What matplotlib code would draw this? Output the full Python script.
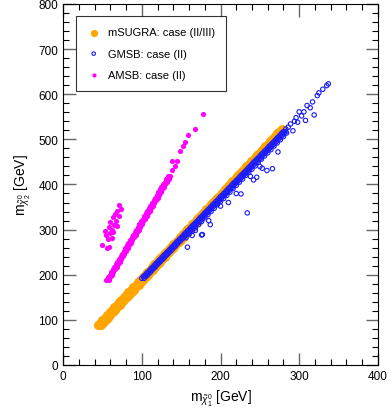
import matplotlib
matplotlib.use("Agg")
import matplotlib.pyplot as plt
from matplotlib.ticker import MultipleLocator

plt.rcParams['font.family'] = ['Liberation Sans', 'DejaVu Sans']
plt.rcParams['mathtext.fontset'] = 'custom'
plt.rcParams['mathtext.rm'] = 'Liberation Sans'
plt.rcParams['mathtext.it'] = 'Liberation Sans:italic'

# === mSUGRA: case (II/III) ===
msugra_x = [44, 47, 50, 53, 56, 59, 62, 65, 68, 71, 74, 77, 80, 83, 86, 89, 92, 95, 98,
            101, 104, 107, 110, 113, 116, 119, 122, 125, 128, 131, 134, 137, 140, 143, 146,
            149, 152, 155, 158, 161, 164, 167, 170, 173, 176, 179, 182, 185, 188, 191, 194,
            197, 200, 203, 206, 209, 212, 215, 218, 221, 224, 227, 230, 233, 236, 239, 242,
            245, 248, 251, 254, 257, 260, 263, 266, 269, 272, 275, 278,
            48, 51, 54, 57, 60, 63, 66, 69, 72, 75, 78, 81, 84, 87, 90, 93, 96, 99, 102,
            105, 108, 111, 114, 117, 120, 123, 126, 129, 132, 135, 138, 141, 144, 147, 150,
            153, 156, 159, 162, 165, 168, 171, 174]
msugra_y = [89, 94, 100, 105, 111, 117, 122, 128, 133, 139, 144, 150, 156, 161, 167, 172, 178, 183, 189,
            195, 200, 206, 211, 217, 223, 228, 234, 239, 245, 250, 256, 262, 267, 273, 278,
            284, 290, 295, 301, 306, 312, 317, 323, 329, 334, 340, 345, 351, 356, 362, 368,
            373, 379, 384, 390, 396, 401, 407, 412, 418, 423, 429, 435, 440, 446, 451, 457,
            462, 468, 474, 479, 485, 490, 496, 501, 507, 513, 518, 524,
            89, 94, 100, 105, 111, 117, 122, 128, 133, 139, 144, 150, 156, 161, 167, 172, 178, 183, 189,
            195, 200, 206, 211, 217, 223, 228, 234, 239, 245, 250, 256, 262, 267, 273, 278,
            284, 290, 295, 301, 306, 312, 317, 323]

# === GMSB: case (II) ===
gmsb_band_x = [100, 102, 104, 106, 108, 110, 112, 114, 116, 118, 120, 122, 124, 126, 128, 130,
               132, 134, 136, 138, 140, 142, 144, 146, 148, 150, 152, 154, 156, 158, 160, 162,
               164, 166, 168, 170, 172, 174, 176, 178, 180, 182, 184, 186, 188, 190, 192, 194,
               196, 198, 200, 202, 204, 206, 208, 210, 212, 214, 216, 218, 220, 222, 224, 226,
               228, 230, 232, 234, 236, 238, 240, 242, 244, 246, 248, 250, 252, 254, 256, 258,
               260, 262, 264, 266, 268, 270, 272, 274, 276, 278, 280,
               103, 105, 107, 109, 111, 113, 115, 117, 119, 121, 123, 125, 127, 129, 131, 133,
               135, 137, 139, 141, 143, 145, 147, 149, 151, 153, 155, 157, 159, 161, 163, 165,
               167, 169, 171, 173, 175, 177, 179, 181, 183, 185, 187, 189, 191, 193, 195, 197,
               199, 201, 203, 205, 207, 209, 211, 213, 215, 217, 219, 221, 223, 225, 227, 229,
               231, 233, 235, 237, 239, 241, 243, 245, 247, 249, 251, 253, 255, 257, 259, 261,
               263, 265, 267, 269, 271, 273, 275, 277, 279, 281, 283,
               156, 160, 164, 168, 172, 176, 180, 184, 188, 192, 196, 200, 204, 208, 212, 216,
               220, 224, 228, 232, 236, 240, 244, 248, 252, 256, 260, 264, 268, 272, 276, 280, 284]
gmsb_band_y = [192, 196, 199, 203, 206, 210, 214, 217, 221, 225, 228, 232, 235, 239, 243, 246,
               250, 253, 257, 261, 264, 268, 272, 275, 279, 282, 286, 290, 293, 297, 300, 304,
               308, 311, 315, 318, 322, 326, 329, 333, 337, 340, 344, 347, 351, 355, 358, 362,
               365, 369, 373, 376, 380, 383, 387, 391, 394, 398, 402, 405, 409, 412, 416, 420,
               423, 427, 430, 434, 438, 441, 445, 449, 452, 456, 459, 463, 467, 470, 474, 477,
               481, 485, 488, 492, 495, 499, 503, 506, 510, 514, 517,
               192, 196, 199, 203, 206, 210, 214, 217, 221, 225, 228, 232, 235, 239, 243, 246,
               250, 253, 257, 261, 264, 268, 272, 275, 279, 282, 286, 290, 293, 297, 300, 304,
               308, 311, 315, 318, 322, 326, 329, 333, 337, 340, 344, 347, 351, 355, 358, 362,
               365, 369, 373, 376, 380, 383, 387, 391, 394, 398, 402, 405, 409, 412, 416, 420,
               423, 427, 430, 434, 438, 441, 445, 449, 452, 456, 459, 463, 467, 470, 474, 477,
               481, 485, 488, 492, 495, 499, 503, 506, 510, 514, 517,
               282, 290, 297, 304, 311, 318, 326, 333, 340, 347, 355, 362, 369, 376, 383, 391,
               398, 405, 412, 420, 427, 434, 441, 449, 456, 463, 470, 477, 485, 492, 499, 506, 514]
gmsb_sparse_x = [283, 286, 289, 292, 294, 296, 298, 300, 303, 306, 308, 310, 314, 317, 319, 323,
                 325, 330, 335, 337,
                 273, 266, 259, 253, 246, 242, 226, 234, 187, 177, 185, 176, 168, 158, 164, 210,
                 220, 238, 250, 200]
gmsb_sparse_y = [523, 527, 534, 519, 540, 548, 538, 561, 552, 561, 542, 575, 570, 583, 554, 597,
                 603, 611, 619, 623,
                 472, 435, 431, 436, 416, 410, 379, 337, 311, 289, 320, 288, 298, 261, 287, 360,
                 380, 418, 440, 352]

# === AMSB: case (II) ===
amsb_x = [55, 57, 59, 61, 63, 65, 67, 69, 71, 73, 75, 77, 79, 81, 83, 85, 87, 89, 91, 93,
          95, 97, 99, 101, 103, 105, 107, 109, 111, 113, 115, 117, 119, 121, 123, 125, 127,
          129, 131, 133,
          58, 60, 62, 64, 66, 68, 70, 72, 74, 76, 78, 80, 82, 84, 86, 88, 90, 92, 94, 96,
          98, 100, 102, 104, 106, 108, 110, 112, 114, 116, 118, 120, 122, 124, 126, 128, 130,
          132, 134, 136,
          138, 142, 145, 139, 149, 152, 154.5, 159, 167, 177.5,
          71, 74, 68, 66, 70.5, 64, 67, 60, 65, 68, 58.5, 62, 53.5, 60, 64, 54.5, 57, 62,
          50, 57.7, 55.7]
amsb_y = [188, 194, 200, 206, 212, 218, 224, 229, 235, 241, 247, 253, 259, 265, 271, 277,
          283, 288, 294, 300, 306, 312, 318, 324, 330, 336, 342, 348, 353, 359, 365, 371,
          377, 383, 389, 395, 401, 406, 412, 418,
          188, 194, 200, 206, 212, 218, 224, 229, 235, 241, 247, 253, 259, 265, 271, 277,
          283, 288, 294, 300, 306, 312, 318, 324, 330, 336, 342, 348, 353, 359, 365, 371,
          377, 383, 389, 395, 401, 406, 412, 418,
          431, 442, 453, 451, 475, 486, 495, 509, 522, 556,
          355, 346, 342, 335, 331, 327, 320, 316, 310, 309, 305, 300, 296, 293, 294, 288, 279, 281,
          266, 261, 259]

fig = plt.figure(figsize=(3.92, 4.14), dpi=100)
ax = fig.add_axes([0.161, 0.116, 0.803, 0.872])

ax.scatter(msugra_x, msugra_y, s=42, color='#ffa500', linewidths=0,
           label='mSUGRA: case (II/III)')
ax.scatter(gmsb_band_x + gmsb_sparse_x, gmsb_band_y + gmsb_sparse_y, s=10,
           facecolors='none', edgecolors='#1a1aff', linewidths=0.8,
           label='GMSB: case (II)')
ax.scatter(amsb_x, amsb_y, s=14, color='#ff00ff', linewidths=0,
           label='AMSB: case (II)')

ax.set_xlim(0, 400)
ax.set_ylim(0, 800)
ax.xaxis.set_major_locator(MultipleLocator(100))
ax.xaxis.set_minor_locator(MultipleLocator(20))
ax.yaxis.set_major_locator(MultipleLocator(100))
ax.yaxis.set_minor_locator(MultipleLocator(20))
ax.tick_params(which='both', direction='in', top=True, right=True, labelsize=8.5)
ax.tick_params(which='major', length=9, width=1, color='0.4')
ax.tick_params(which='minor', length=4, width=0.8, color='k')

ax.set_xlabel(r'm$_{\tilde{\chi}_1^0}$ [GeV]', fontsize=10)
ax.set_ylabel(r'm$_{\tilde{\chi}_2^0}$ [GeV]', fontsize=10)

leg = ax.legend(loc='upper left', bbox_to_anchor=(0.03, 0.975), fontsize=8,
                frameon=True, fancybox=False, edgecolor='k', handlelength=1.2,
                handletextpad=0.7, borderpad=1.0, borderaxespad=0.3,
                labelspacing=1.0, markerscale=0.8)
leg.get_frame().set_linewidth(0.8)

plt.savefig('out.png', dpi=100)
